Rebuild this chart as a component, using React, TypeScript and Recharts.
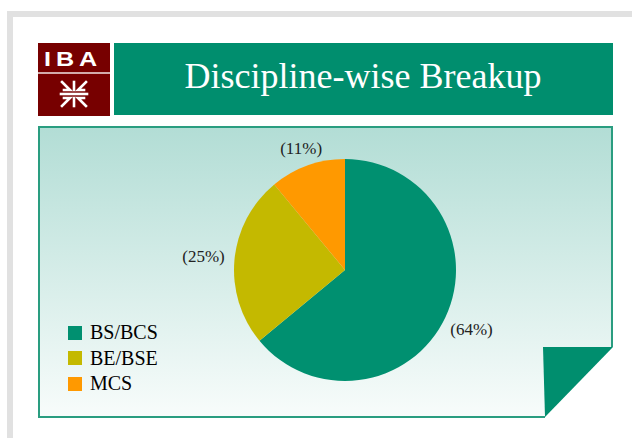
import { Cell, Legend, Pie, PieChart } from "recharts";

const disciplines = ["BS/BCS", "BE/BSE", "MCS"];
const shares = [64, 25, 11];
const sliceColors = ["#009070", "#c4b900", "#ff9900"];

const pieData = disciplines.map((name, i) => ({ name, value: shares[i] }));

const RADIAN = Math.PI / 180;
const serif = "'Liberation Serif', 'DejaVu Serif', serif";

// outside labels: keep a small gap between the slice edge and the text box
const renderLabel = (props: any) => {
  const { cx, cy, midAngle, outerRadius, value } = props;
  const cos = Math.cos(-midAngle * RADIAN);
  const sin = Math.sin(-midAngle * RADIAN);
  const halfW = 21;
  const halfH = 8;
  const t = Math.min(
    Math.abs(cos) > 0.001 ? halfW / Math.abs(cos) : 999,
    Math.abs(sin) > 0.001 ? halfH / Math.abs(sin) : 999
  );
  const r = outerRadius + 10 + t;
  return (
    <text
      x={cx + r * cos}
      y={cy + r * sin}
      fill="#222"
      textAnchor="middle"
      dominantBaseline="central"
      fontFamily={serif}
      fontSize={17}
    >
      {`(${value}%)`}
    </text>
  );
};

const renderLegend = (props: any) => {
  const payload = [...(props.payload || [])].sort(
    (a: any, b: any) => disciplines.indexOf(a.value) - disciplines.indexOf(b.value)
  );
  return (
    <div>
      {payload.map((entry: any) => (
        <div
          key={entry.value}
          style={{
            display: "flex",
            alignItems: "center",
            height: 25.5,
            fontFamily: serif,
            fontSize: 20,
            color: "#000",
          }}
        >
          <span
            style={{
              display: "inline-block",
              width: 14,
              height: 14,
              background: entry.color,
              marginRight: 8,
            }}
          />
          {entry.value}
        </div>
      ))}
    </div>
  );
};

function Backdrop() {
  return (
    <svg width={632} height={438} style={{ position: "absolute", left: 0, top: 0 }}>
      <defs>
        <linearGradient id="boxFill" x1="0" y1="0" x2="0" y2="1">
          <stop offset="0%" stopColor="#b2ddd5" />
          <stop offset="100%" stopColor="#f8fcfb" />
        </linearGradient>
      </defs>
      <rect x={0} y={0} width={632} height={438} fill="#ffffff" />
      {/* grey slide frame */}
      <rect x={7} y={11} width={625} height={6} fill="#e1e1e1" />
      <rect x={7} y={11} width={6} height={427} fill="#e1e1e1" />

      {/* logo */}
      <rect x={38} y={43} width={72} height={73} fill="#770000" />
      <line x1={38} y1={73} x2={110} y2={73} stroke="#f2e6e6" strokeWidth={1.5} />
      <text
        x={0}
        y={0}
        fill="#ffffff"
        textAnchor="middle"
        fontFamily="'Liberation Sans', Arial, sans-serif"
        fontWeight="bold"
        fontSize={21}
        letterSpacing={4}
        transform="translate(73 66) scale(1.2 1)"
      >
        IBA
      </text>
      <g stroke="#ffffff" strokeWidth={2.6} fill="none" strokeLinecap="square">
        <line x1={61} y1={94} x2={87} y2={94} />
        <line x1={74} y1={82} x2={74} y2={90} />
        <line x1={74} y1={98} x2={74} y2={106} />
        <polyline points="62,82 70,90 64,90" />
        <polyline points="86,82 78,90 84,90" />
        <polyline points="62,106 70,98 64,98" />
        <polyline points="86,106 78,98 84,98" />
      </g>

      {/* title bar */}
      <rect x={114} y={43} width={499} height={72} fill="#008e6e" />
      <text
        x={363}
        y={88}
        fill="#ffffff"
        textAnchor="middle"
        fontFamily={serif}
        fontSize={36}
      >
        Discipline-wise Breakup
      </text>

      {/* content panel with folded corner */}
      <path d="M38,126 H612 V347 L545,417 H38 Z" fill="url(#boxFill)" />
      <path
        d="M545,417 H39 V127 H612 V347"
        fill="none"
        stroke="#2a9d80"
        strokeWidth={2}
      />
      <path d="M543,347 H613 L545,417 Z" fill="#008e6e" />
    </svg>
  );
}

export default function App() {
  return (
    <div
      style={{
        position: "absolute",
        left: 0,
        top: 0,
        width: 632,
        height: 438,
        overflow: "hidden",
      }}
    >
      <Backdrop />
      <div style={{ position: "absolute", left: 0, top: 0 }}>
        <PieChart
          width={632}
          height={438}
          margin={{ top: 0, right: 0, bottom: 0, left: 0 }}
        >
          <Pie
            data={pieData}
            dataKey="value"
            nameKey="name"
            cx={345}
            cy={270}
            outerRadius={111}
            startAngle={90}
            endAngle={-270}
            stroke="none"
            label={renderLabel}
            labelLine={false}
            isAnimationActive={false}
          >
            {pieData.map((d, i) => (
              <Cell key={d.name} fill={sliceColors[i]} />
            ))}
          </Pie>
          <Legend
            layout="vertical"
            content={renderLegend}
            wrapperStyle={{ left: 68, top: 320, width: 150, bottom: "auto" }}
          />
        </PieChart>
      </div>
    </div>
  );
}
